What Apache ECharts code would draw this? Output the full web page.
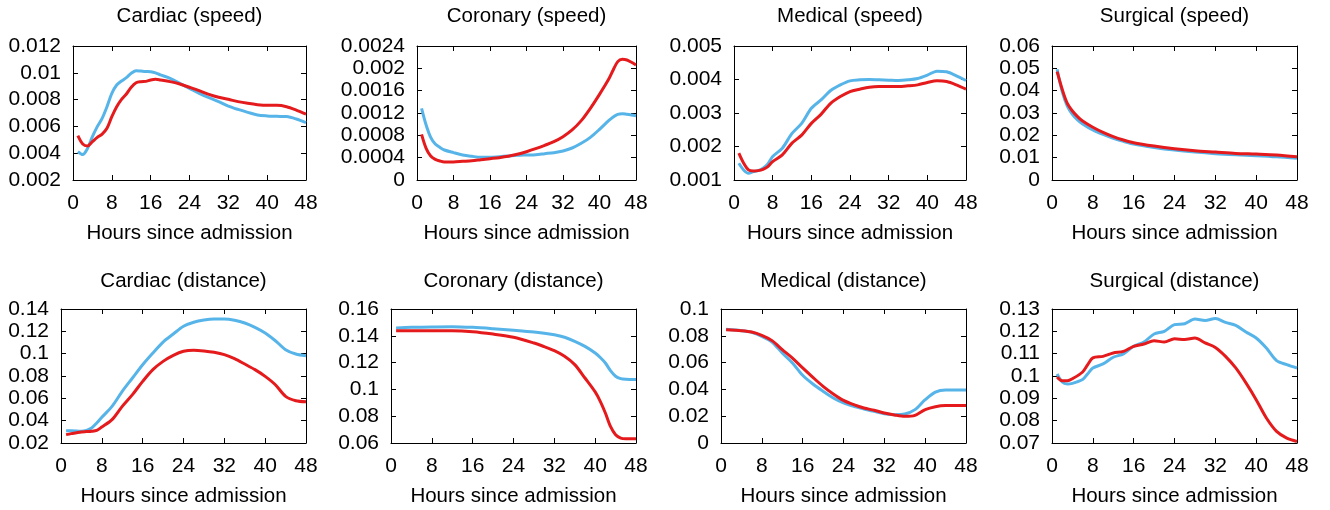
<!DOCTYPE html>
<html><head><meta charset="utf-8">
<script src="https://cdn.jsdelivr.net/npm/echarts@6.0.0/dist/echarts.min.js"></script>
<style>html,body{margin:0;padding:0;background:#fff}#c{width:1330px;height:510px}</style>
</head><body><div id="c"></div>
<script>
// ---- data ----
const panelTitles = ['Cardiac (speed)','Coronary (speed)','Medical (speed)','Surgical (speed)',
                     'Cardiac (distance)','Coronary (distance)','Medical (distance)','Surgical (distance)'];
const xAxisName = 'Hours since admission';
const xTicks = [0, 8, 16, 24, 32, 40, 48];

const cardiacSpeedHours = [1,2,3,4,5,6,7,8,9,10,11,12,13,14,15,16,17,18,20,22,24,26,28,30,32,34,36,38,40,42,44,46,48];
const cardiacSpeedBlue = [0.00411,0.0039,0.00436,0.00523,0.00598,0.0066,0.00747,0.00847,0.00909,0.00939,0.00964,0.00996,0.01016,0.01013,0.0101,0.01008,0.0100,0.00984,0.00959,0.00921,0.00884,0.00847,0.00814,0.00785,0.00752,0.00727,0.00705,0.00685,0.00678,0.00675,0.00673,0.00655,0.00628];
const cardiacSpeedRed = [0.00531,0.00469,0.00454,0.00486,0.00518,0.00543,0.00586,0.00673,0.00747,0.00802,0.00842,0.00892,0.00926,0.00934,0.00936,0.00946,0.00951,0.00946,0.00934,0.00916,0.00892,0.00867,0.00839,0.00817,0.00802,0.00785,0.00772,0.00762,0.00757,0.00757,0.00747,0.00722,0.00692];

const coronarySpeedHours = [1,2,3,4,5,6,8,10,12,14,16,18,20,22,24,26,28,30,32,34,36,38,40,42,43,44,45,46,47,48];
const coronarySpeedBlue = [0.001284,0.000985,0.000764,0.000645,0.000585,0.000537,0.00049,0.000448,0.000424,0.000406,0.000406,0.000418,0.00043,0.000442,0.000448,0.000454,0.000472,0.00049,0.00052,0.000573,0.000657,0.000764,0.000907,0.001063,0.00113,0.001176,0.001188,0.001176,0.001165,0.001152];
const coronarySpeedRed = [0.000818,0.000567,0.00043,0.00037,0.00034,0.000322,0.000322,0.000334,0.000346,0.000364,0.000382,0.0004,0.000424,0.00046,0.000507,0.000561,0.000621,0.000687,0.000776,0.000896,0.001063,0.001284,0.001534,0.001803,0.00197,0.00212,0.002161,0.00215,0.002108,0.00206];

const medicalSpeedHours = [1,2,3,4,5,6,7,8,10,12,14,16,18,20,22,24,26,28,30,32,34,36,38,40,42,44,46,48];
const medicalSpeedBlue = [0.0015,0.0013,0.0012,0.00125,0.00128,0.00135,0.00148,0.0017,0.00195,0.00239,0.00269,0.00314,0.00339,0.00367,0.00384,0.00396,0.00399,0.004,0.00399,0.00398,0.00397,0.00399,0.00403,0.00413,0.00425,0.00423,0.00411,0.00397];
const medicalSpeedRed = [0.0018,0.0015,0.0013,0.00127,0.00128,0.00132,0.0014,0.00155,0.00175,0.0021,0.00234,0.00269,0.00296,0.00329,0.00349,0.00364,0.00371,0.00377,0.00379,0.00379,0.00379,0.00381,0.00384,0.00391,0.00396,0.00394,0.00384,0.00371];

const surgicalSpeedHours = [1,2,3,4,5,6,8,10,12,14,16,20,24,28,32,36,40,44,48];
const surgicalSpeedBlue = [0.0496,0.0396,0.0331,0.0294,0.0269,0.0251,0.0224,0.0204,0.0187,0.0173,0.0161,0.0146,0.0134,0.0125,0.0118,0.0113,0.0109,0.0104,0.0097];
const surgicalSpeedRed = [0.0485,0.0406,0.0343,0.0309,0.0284,0.0264,0.0236,0.0213,0.0194,0.0179,0.0167,0.0152,0.014,0.0131,0.0125,0.0119,0.0116,0.0112,0.0104];

const cardiacDistHours = [1,2,4,5,6,7,8,10,12,14,16,18,20,22,24,26,28,30,32,34,36,38,40,42,44,46,48];
const cardiacDistBlue = [0.031,0.031,0.0305,0.0313,0.0334,0.0379,0.043,0.0528,0.0663,0.0782,0.0901,0.1006,0.1104,0.1176,0.1245,0.1281,0.1301,0.131,0.131,0.1299,0.1275,0.1236,0.1185,0.1116,0.1036,0.0997,0.0982];
const cardiacDistRed = [0.0275,0.0284,0.0299,0.0302,0.0305,0.0313,0.0343,0.0409,0.0528,0.0633,0.0752,0.0857,0.0931,0.0985,0.1021,0.103,0.1024,0.1012,0.0991,0.0955,0.0907,0.0857,0.0797,0.0722,0.0618,0.0579,0.057];

const coronaryDistHours = [1,4,8,12,16,20,24,28,30,32,34,36,38,40,41,42,43,44,45,46,48];
const coronaryDistBlue = [0.1458,0.1463,0.1466,0.1468,0.1463,0.1453,0.1441,0.1428,0.1419,0.1408,0.1389,0.1359,0.1321,0.1272,0.1238,0.1197,0.114,0.1098,0.108,0.1075,0.1073];
const coronaryDistRed = [0.1438,0.1438,0.1438,0.1438,0.1431,0.1413,0.1389,0.1346,0.1319,0.1289,0.1247,0.1185,0.1085,0.0981,0.0911,0.0824,0.0724,0.0662,0.0637,0.0632,0.0632];

const medicalDistHours = [1,4,6,8,10,12,14,16,18,20,22,24,26,28,30,32,34,36,38,40,42,44,46,48];
const medicalDistBlue = [0.0848,0.0838,0.0826,0.0796,0.0754,0.0672,0.0597,0.0505,0.044,0.0386,0.0336,0.0299,0.0274,0.0254,0.0236,0.0219,0.0211,0.0216,0.0249,0.0323,0.038,0.0396,0.0396,0.0396];
const medicalDistRed = [0.0846,0.0838,0.0828,0.0803,0.0764,0.0697,0.0634,0.056,0.049,0.0423,0.0366,0.0318,0.0286,0.0261,0.0244,0.0224,0.0209,0.0199,0.0206,0.0249,0.0271,0.0279,0.0279,0.0279];

const surgicalDistHours = [1,2,3,4,6,7,8,10,12,14,16,18,20,22,24,26,28,30,32,34,36,38,40,42,44,46,48];
const surgicalDistBlue = [0.1009,0.0973,0.0964,0.0967,0.0984,0.101,0.1036,0.1054,0.1084,0.1099,0.1133,0.1152,0.1188,0.12,0.123,0.1234,0.1255,0.1249,0.1257,0.124,0.1227,0.1197,0.117,0.1125,0.1069,0.1051,0.1036];
const surgicalDistRed = [0.0996,0.0979,0.0979,0.0988,0.1018,0.1051,0.1081,0.1088,0.1103,0.111,0.1133,0.1143,0.1158,0.1152,0.1167,0.1163,0.117,0.1148,0.1128,0.1088,0.1036,0.0969,0.0894,0.0812,0.0752,0.0722,0.0707];

// y tick ranges (min, max, step) per panel
const yMins  = [0.002, 0, 0.001, 0, 0.02, 0.06, 0, 0.07];
const yMaxs  = [0.012, 0.0024, 0.005, 0.06, 0.14, 0.16, 0.1, 0.13];
const ySteps = [0.002, 0.0004, 0.001, 0.01, 0.02, 0.02, 0.02, 0.01];

const panelHours = [cardiacSpeedHours, coronarySpeedHours, medicalSpeedHours, surgicalSpeedHours,
                    cardiacDistHours, coronaryDistHours, medicalDistHours, surgicalDistHours];
const panelBlue = [cardiacSpeedBlue, coronarySpeedBlue, medicalSpeedBlue, surgicalSpeedBlue,
                   cardiacDistBlue, coronaryDistBlue, medicalDistBlue, surgicalDistBlue];
const panelRed = [cardiacSpeedRed, coronarySpeedRed, medicalSpeedRed, surgicalSpeedRed,
                  cardiacDistRed, coronaryDistRed, medicalDistRed, surgicalDistRed];

// ---- layout ----
const gridBoxes = [
  [73, 46, 233, 134], [417, 46, 219, 134], [734, 46, 232, 134], [1052, 46, 245, 134],
  [61, 309, 245, 134], [391, 309, 245, 134], [721, 309, 245, 134], [1052, 309, 245, 134]
];
const FONT = '"Liberation Sans", Arial, sans-serif';
const BLUE = '#56B4E9', RED = '#E41A1C';

const fmt = v => String(parseFloat(Number(v).toPrecision(6)));

const grids = [], xAxes = [], yAxes = [], series = [], titles = [];
gridBoxes.forEach((b, i) => {
  grids.push({left: b[0], top: b[1], width: b[2], height: b[3], containLabel: false});
  titles.push({text: panelTitles[i], left: b[0] + b[2] / 2, top: b[1] - (i < 4 ? 40 : 38), textAlign: 'center', padding: 0,
    textStyle: {fontFamily: FONT, fontSize: 20.5, fontWeight: 'normal', color: '#000'}});
  const tick = {show: true, inside: true, length: 5, lineStyle: {color: '#000', width: 1}};
  const line = {show: true, onZero: false, lineStyle: {color: '#000', width: 1}};
  xAxes.push({gridIndex: i, type: 'value', position: 'bottom', min: xTicks[0], max: xTicks[xTicks.length - 1],
    interval: xTicks[1] - xTicks[0], axisLine: line, axisTick: tick, splitLine: {show: false},
    axisLabel: {fontFamily: FONT, fontSize: 21, color: '#000', margin: 13},
    name: xAxisName, nameLocation: 'middle', nameGap: 43,
    nameTextStyle: {fontFamily: FONT, fontSize: 20.5, color: '#000'}});
  xAxes.push({gridIndex: i, type: 'value', position: 'top', min: xTicks[0], max: xTicks[xTicks.length - 1],
    interval: xTicks[1] - xTicks[0], axisLine: line, axisTick: tick, splitLine: {show: false},
    axisLabel: {show: false}});
  yAxes.push({gridIndex: i, type: 'value', position: 'left', min: yMins[i], max: yMaxs[i], interval: ySteps[i],
    axisLine: line, axisTick: tick, splitLine: {show: false},
    axisLabel: {fontFamily: FONT, fontSize: 21, color: '#000', margin: 12, formatter: fmt}});
  yAxes.push({gridIndex: i, type: 'value', position: 'right', min: yMins[i], max: yMaxs[i], interval: ySteps[i],
    axisLine: line, axisTick: tick, splitLine: {show: false}, axisLabel: {show: false}});
  const hrs = panelHours[i];
  series.push({type: 'line', xAxisIndex: 2 * i, yAxisIndex: 2 * i, smooth: 0.3, showSymbol: false,
    lineStyle: {color: BLUE, width: 3}, itemStyle: {color: BLUE}, clip: true,
    data: hrs.map((h, k) => [h, panelBlue[i][k]])});
  series.push({type: 'line', xAxisIndex: 2 * i, yAxisIndex: 2 * i, smooth: 0.3, showSymbol: false,
    lineStyle: {color: RED, width: 3}, itemStyle: {color: RED}, clip: true,
    data: hrs.map((h, k) => [h, panelRed[i][k]])});
});

const chart = echarts.init(document.getElementById('c'), null, {renderer: 'canvas'});
chart.setOption({
  animation: false,
  backgroundColor: '#fff',
  title: titles,
  grid: grids,
  xAxis: xAxes,
  yAxis: yAxes,
  series: series
});
</script></body></html>
